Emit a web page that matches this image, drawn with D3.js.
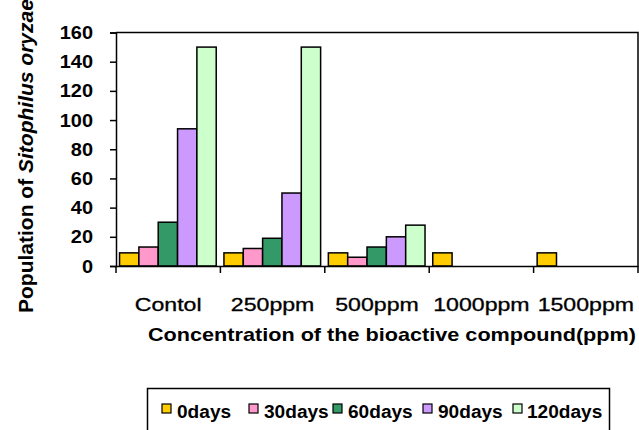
<!DOCTYPE html>
<html>
<head>
<meta charset="utf-8">
<script src="https://cdn.jsdelivr.net/npm/d3@7"></script>
<style>
  body { margin: 0; background: #fff; }
  text { font-family: "Liberation Sans", Arial, sans-serif; }
</style>
</head>
<body>
<div id="canvas"></div>
<script>
const canvas = d3.select("#canvas");

const categories = ["Contol", "250ppm", "500ppm", "1000ppm", "1500ppm"];
const seriesNames = ["0days", "30days", "60days", "90days", "120days"];
const colors = ["#FFCC00", "#FF99CC", "#339966", "#CC99FF", "#CCFFCC"];
const days0 = [9, 9, 9, 9, 9];
const days30 = [13, 12, 6, 0, 0];
const days60 = [30, 19, 13, 0, 0];
const days90 = [94, 50, 20, 0, 0];
const days120 = [150, 150, 28, 0, 0];
const yTicks = [0, 20, 40, 60, 80, 100, 120, 140, 160];

const series = [days0, days30, days60, days90, days120];

const width = 639;
const height = 430;
const pLeft = 116, pRight = 638, pTop = 32.5, pBottom = 266;

// widen text horizontally (the source picture is a bit stretched)
let stretch = (sel, k) => sel.each(function () {
    const w = this.getComputedTextLength();
    d3.select(this).attr("textLength", w * k).attr("lengthAdjust", "spacingAndGlyphs");
});

const svg = canvas.append("svg")
    .attr("width", width)
    .attr("height", height);

const x0 = d3.scaleBand()
    .domain(categories)
    .range([pLeft, pRight])
    .padding(0);

const x1 = d3.scaleBand()
    .domain(seriesNames)
    .range([x0.bandwidth() * 0.034, x0.bandwidth() * 0.96]);

const y = d3.scaleLinear()
    .domain([0, 160])
    .range([pBottom, pTop]);

// plot frame (top and right)
svg.append("path")
    .attr("d", `M${pLeft},${pTop}H${pRight}V${pBottom}`)
    .attr("fill", "none")
    .attr("stroke", "#000")
    .attr("stroke-width", 1.5);

// bars
const groups = svg.selectAll("g.cat").data(categories)
    .enter().append("g")
    .attr("class", "cat")
    .attr("transform", d => `translate(${x0(d)},0)`);

groups.selectAll("rect")
    .data((c, i) => seriesNames.map((s, j) => ({ s: s, v: series[j][i], col: colors[j] })))
    .enter().append("rect")
    .filter(d => d.v > 0)
    .attr("x", d => x1(d.s))
    .attr("y", d => y(d.v))
    .attr("width", x1.bandwidth())
    .attr("height", d => y(0) - y(d.v))
    .attr("fill", d => d.col)
    .attr("stroke", "#000")
    .attr("stroke-width", 1.5);

// y axis
const yAxis = svg.append("g")
    .attr("transform", `translate(${pLeft},0)`)
    .call(d3.axisLeft(y).tickValues(yTicks).tickSize(6).tickPadding(17));
yAxis.select(".domain").attr("stroke-width", 1.5);
yAxis.selectAll(".tick line").attr("stroke-width", 1.5);
yAxis.selectAll(".tick text")
    .attr("font-size", 19)
    .attr("font-weight", "bold")
    .attr("font-family", "Liberation Sans, Arial, sans-serif")
    .attr("fill", "#000")
    .call(stretch, 1.05);

// x axis
const xAxis = svg.append("g")
    .attr("transform", `translate(0,${pBottom})`)
    .call(d3.axisBottom(x0).tickSize(0).tickPadding(33));
xAxis.select(".domain").attr("stroke-width", 1.5);
xAxis.selectAll(".tick text")
    .attr("font-size", 17.5)
    .attr("font-family", "Liberation Sans, Arial, sans-serif")
    .attr("fill", "#000")
    .attr("stroke", "#000")
    .attr("stroke-width", 0.3)
    .call(stretch, 1.32);

// category boundary ticks
const bounds = categories.map(c => x0(c)).concat([x0.range()[1]]);
svg.selectAll("line.bt").data(bounds)
    .enter().append("line")
    .attr("class", "bt")
    .attr("x1", d => d).attr("x2", d => d)
    .attr("y1", pBottom).attr("y2", pBottom + 7)
    .attr("stroke", "#000")
    .attr("stroke-width", 1.5);

// axis titles
svg.append("text")
    .attr("x", 148)
    .attr("y", 341)
    .attr("font-size", 19)
    .attr("font-weight", "bold")
    .attr("textLength", 488)
    .attr("lengthAdjust", "spacingAndGlyphs")
    .text("Concentration of the bioactive compound(ppm)");

const yt = svg.append("text")
    .attr("transform", "translate(33,313) rotate(-90)")
    .attr("font-size", 21)
    .attr("font-weight", "bold");
yt.append("tspan").text("Population of ");
yt.append("tspan").attr("font-style", "italic").text("Sitophilus oryzae");

// legend
svg.append("clipPath").attr("id", "lgclip")
    .append("rect")
    .attr("x", 148).attr("y", 389)
    .attr("width", 461).attr("height", 60);

svg.append("rect")
    .attr("x", 147.5)
    .attr("y", 388.5)
    .attr("width", 462)
    .attr("height", 60)
    .attr("fill", "#fff")
    .attr("stroke", "#000")
    .attr("stroke-width", 1.5);

const legendX = [162, 249, 333, 423, 513];
const lg = svg.append("g").attr("clip-path", "url(#lgclip)")
    .selectAll("g.lg").data(seriesNames)
    .enter().append("g")
    .attr("class", "lg")
    .attr("transform", (d, i) => `translate(${legendX[i]},0)`);
lg.append("rect")
    .attr("x", 0).attr("y", 404)
    .attr("width", 9).attr("height", 9)
    .attr("fill", (d, i) => colors[i])
    .attr("stroke", "#000")
    .attr("stroke-width", 1.2);
lg.append("text")
    .attr("x", (d, i) => i === 4 ? 14 : 15)
    .attr("y", 418)
    .attr("font-size", 18)
    .attr("font-weight", "bold")
    .text(d => d)
    .call(stretch, 1.06);
</script>
</body>
</html>
